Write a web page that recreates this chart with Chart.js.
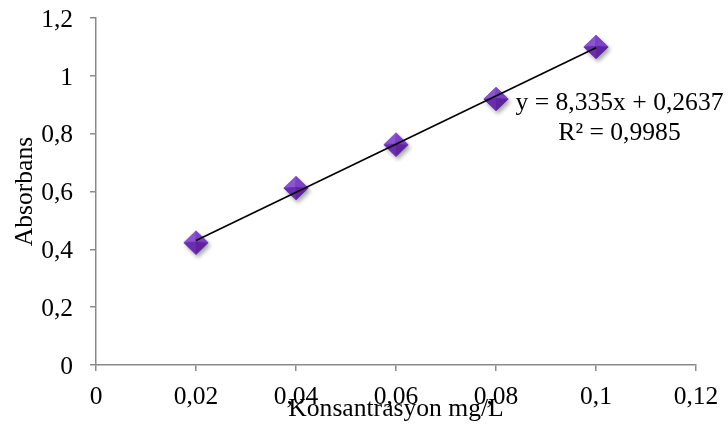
<!DOCTYPE html>
<html>
<head>
<meta charset="utf-8">
<script src="https://cdn.jsdelivr.net/npm/chart.js@4.4.1/dist/chart.umd.min.js"></script>
<style>
  html, body { margin: 0; padding: 0; background: #ffffff; }
  #wrap { width: 728px; height: 438px; position: relative; }
</style>
</head>
<body>
<div id="wrap"><canvas id="c" width="728" height="438"></canvas></div>
<script>
// ---- data ----
const concentrations = [0.02, 0.04, 0.06, 0.08, 0.10];
const absorbances   = [0.423, 0.612, 0.762, 0.920, 1.100];
const trendX = [0.02, 0.10];
const trendY = [0.4304, 1.0972];
const xTickValues = [0, 0.02, 0.04, 0.06, 0.08, 0.10, 0.12];
const xTickLabels = ['0', '0,02', '0,04', '0,06', '0,08', '0,1', '0,12'];
const yTickValues = [0, 0.2, 0.4, 0.6, 0.8, 1.0, 1.2];
const yTickLabels = ['0', '0,2', '0,4', '0,6', '0,8', '1', '1,2'];
const equationLines = ['y = 8,335x + 0,2637', 'R\u00B2 = 0,9985'];
const xTitle = 'Konsantrasyon mg/L';
const yTitle = 'Absorbans';

const FONT = "'Liberation Serif', 'Times New Roman', serif";
const FS = 25.5;
const AXIS_GREY = '#8a8a8a';

// diamond marker image
function makeDiamond() {
  const cv = document.createElement('canvas');
  cv.width = 40; cv.height = 40;
  const g = cv.getContext('2d');
  const c = 20, hw = 12.5, hh = 12;
  const T = [c, c - hh], R = [c + hw, c], B = [c, c + hh], L = [c - hw, c], C = [c - 0.5, c - 1];
  g.save();
  g.shadowColor = 'rgba(0,0,0,0.35)';
  g.shadowBlur = 4;
  g.shadowOffsetX = 2;
  g.shadowOffsetY = 3;
  g.beginPath(); g.moveTo(...T); g.lineTo(...R); g.lineTo(...B); g.lineTo(...L); g.closePath();
  g.fillStyle = '#6d30b2'; g.fill();
  g.restore();
  const tri = (a, b, col) => { g.beginPath(); g.moveTo(...a); g.lineTo(...b); g.lineTo(...C); g.closePath(); g.fillStyle = col; g.fill(); };
  tri(L, T, '#8b54d0');
  tri(T, R, '#7c42c6');
  tri(R, B, '#5f239f');
  tri(B, L, '#6a2db0');
  return cv;
}
const diamond = makeDiamond();

const equationPlugin = {
  id: 'equation',
  afterDatasetsDraw(chart) {
    const ctx = chart.ctx;
    ctx.save();
    ctx.fillStyle = '#000';
    ctx.font = "25.6px " + FONT;
    ctx.textAlign = 'center';
    ctx.textBaseline = 'alphabetic';
    ctx.fillText(equationLines[0], 619.5, 110);
    ctx.fillText(equationLines[1], 619.5, 140);
    ctx.restore();
  }
};

new Chart(document.getElementById('c'), {
  type: 'scatter',
  data: {
    datasets: [
      {
        label: 'trend',
        data: trendX.map((x, i) => ({ x, y: trendY[i] })),
        showLine: true,
        borderColor: '#000',
        borderWidth: 1.6,
        pointRadius: 0,
        order: 0
      },
      {
        label: 'Absorbans',
        data: concentrations.map((x, i) => ({ x, y: absorbances[i] })),
        pointStyle: diamond,
        pointRadius: 12,
        showLine: false,
        order: 1
      }
    ]
  },
  options: {
    responsive: false,
    animation: false,
    devicePixelRatio: 1,
    layout: { padding: { top: 18, right: 32, bottom: 0, left: 0 } },
    plugins: { legend: { display: false }, tooltip: { enabled: false } },
    scales: {
      x: {
        type: 'linear',
        min: 0, max: 0.12,
        afterBuildTicks(scale) { scale.ticks = xTickValues.map(v => ({ value: v })); },
        afterFit(scale) { scale.height = 73; scale.paddingLeft = 0; scale.paddingRight = 0; },
        ticks: {
          callback: (v, i) => xTickLabels[i],
          color: '#000',
          font: { family: FONT, size: FS },
          padding: 11,
          maxRotation: 0,
          autoSkip: false
        },
        grid: { drawOnChartArea: false, drawTicks: true, tickLength: 6, color: AXIS_GREY, lineWidth: 1.5 },
        border: { color: AXIS_GREY, width: 1.5 },
        title: {
          display: true, text: xTitle, color: '#000',
          font: { family: FONT, size: 25.6 },
          padding: { top: 0, bottom: 13 }
        }
      },
      y: {
        type: 'linear',
        min: 0, max: 1.2,
        afterBuildTicks(scale) { scale.ticks = yTickValues.map(v => ({ value: v })); },
        afterFit(scale) { scale.width = 96; scale.paddingTop = 0; scale.paddingBottom = 0; },
        ticks: {
          callback: (v, i) => yTickLabels[i],
          color: '#000',
          font: { family: FONT, size: FS },
          padding: 17,
          labelOffset: 2,
          autoSkip: false
        },
        grid: { drawOnChartArea: false, drawTicks: true, tickLength: 6, color: AXIS_GREY, lineWidth: 1.5 },
        border: { color: AXIS_GREY, width: 1.5 },
        title: {
          display: true, text: yTitle, color: '#000',
          font: { family: FONT, size: 25.6 },
          padding: { top: 10, bottom: 0 }
        }
      }
    }
  },
  plugins: [equationPlugin]
});
</script>
</body>
</html>
